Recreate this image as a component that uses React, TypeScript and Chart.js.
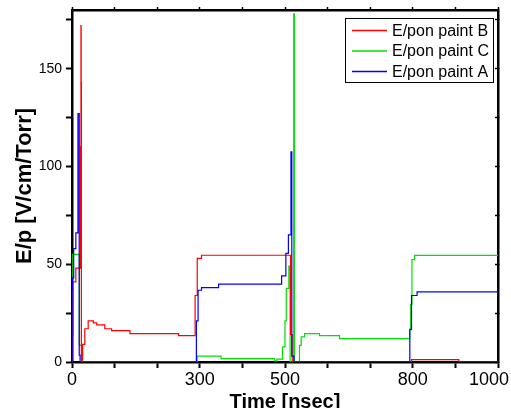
import React, { useEffect, useRef } from "react";
import { Chart, registerables } from "chart.js";

Chart.register(...registerables);

// ---- data ----
const X_MIN = 0;
const X_MAX = 1000;
const Y_MIN = 0;
const Y_MAX = 180;
const X_TICK_LABELS = [0, 300, 500, 800, 1000];
const Y_TICK_LABELS = [0, 50, 100, 150];
const SERIES_LABELS = ["E/pon paint B", "E/pon paint C", "E/pon paint A"];
const SERIES_COLORS = ["#ff0000", "#00e000", "#0000ff"];
const X_TITLE = "Time [nsec]";
const Y_TITLE = "E/p [V/cm/Torr]";

// series B (red)
const B_T = [0, 0.5, 2, 9, 20, 21, 21.5, 22, 25, 30, 38, 50, 58, 77, 93, 136, 250, 289, 294, 304, 513, 517, 797, 908, 1000];
const B_V = [0, 14, 41, 48, 110, 172, 143, 1, 9, 17, 21, 20, 19, 17, 16, 14.5, 13.5, 34, 53, 54.6, 14, 0, 1.2, 0, 0];

// series C (green)
const C_T = [0, 0.5, 17, 23, 294, 350, 476, 481, 494, 500, 503, 509, 512, 520.5, 522, 534, 538, 546, 581, 628, 793, 795, 798, 804, 1000];
const C_V = [0, 55, 8.5, 0, 3, 1.7, 0.5, 1.5, 7.7, 21, 37.6, 49, 0, 178, 0, 8.5, 12.8, 14.5, 13.5, 12, 16.6, 29.5, 52.4, 54.5, 54.5];

// series A (blue)
const A_T = [0, 0.3, 0.8, 4, 9, 14, 17, 19, 292, 296, 304, 344, 492, 502, 508, 514, 516, 521, 793, 797, 810, 1000];
const A_V = [0, 37, 43, 58, 66, 127, 3.5, 0, 21, 36.7, 38, 39.8, 44, 55.5, 65, 107.5, 3, 0, 16.7, 34, 35.9, 35.9];

const toPoints = (t: number[], v: number[]) => t.map((x, i) => ({ x, y: v[i] }));

const boxLegend = {
  id: "boxLegend",
  afterDatasetsDraw(chart: any) {
    const { ctx, chartArea } = chart;
    const w = 148;
    const h = 64;
    const x0 = Math.round(chartArea.right - 5 - w);
    const y0 = Math.round(chartArea.top + 8);
    ctx.save();
    ctx.fillStyle = "#ffffff";
    ctx.fillRect(x0, y0, w, h);
    ctx.strokeStyle = "#000000";
    ctx.lineWidth = 1;
    ctx.strokeRect(x0 + 0.5, y0 + 0.5, w, h);
    ctx.font = '16px "Liberation Sans", Arial, sans-serif';
    ctx.textBaseline = "middle";
    ctx.textAlign = "left";
    chart.data.datasets.forEach((ds: any, i: number) => {
      const y = y0 + 12.5 + i * 20.5;
      ctx.strokeStyle = ds.borderColor;
      ctx.lineWidth = 1.5;
      ctx.beginPath();
      ctx.moveTo(x0 + 7, y);
      ctx.lineTo(x0 + 42, y);
      ctx.stroke();
      ctx.fillStyle = "#000000";
      ctx.fillText(ds.label, x0 + 47, y + 1);
    });
    ctx.restore();
  },
};

const noPad = (s: any) => {
  s.paddingLeft = 0;
  s.paddingRight = 0;
  s.paddingTop = 0;
  s.paddingBottom = 0;
};

export default function App() {
  const ref = useRef<HTMLCanvasElement | null>(null);

  useEffect(() => {
    if (!ref.current) return;
    const series = [
      toPoints(B_T, B_V),
      toPoints(C_T, C_V),
      toPoints(A_T, A_V),
    ];
    const orders = [1, 2, 0];
    const chart = new Chart(ref.current, {
      type: "line",
      data: {
        datasets: series.map((d, i) => ({
          label: SERIES_LABELS[i],
          data: d,
          borderColor: SERIES_COLORS[i],
          backgroundColor: SERIES_COLORS[i],
          borderWidth: 1.2,
          pointRadius: 0,
          stepped: true,
          fill: false,
          order: orders[i],
        })),
      },
      options: {
        responsive: false,
        animation: false,
        devicePixelRatio: 1,
        layout: { padding: { top: 10, right: 13, left: 0, bottom: 0 } },
        plugins: {
          legend: { display: false },
          tooltip: { enabled: false },
        },
        scales: {
          x: {
            type: "linear",
            position: "bottom",
            min: X_MIN,
            max: X_MAX,
            afterFit: (s: any) => { s.height = 46; noPad(s); },
            afterBuildTicks: (s: any) => {
              const t = [];
              for (let v = X_MIN; v <= X_MAX; v += 100) t.push({ value: v });
              s.ticks = t;
            },
            ticks: {
              autoSkip: false,
              maxRotation: 0,
              padding: 1,
              color: "#000",
              font: { family: '"Liberation Sans Narrow", "Liberation Sans", Arial, sans-serif', size: 18 },
              callback: (v: any) => {
                const n = Number(v);
                if (!X_TICK_LABELS.includes(n)) return "";
                return n === X_MAX ? String(n) + "\u2002\u2002" : String(n);
              },
            },
            grid: { drawOnChartArea: false, drawTicks: true, tickLength: 6, tickWidth: 2, tickColor: "#000" },
            border: { display: true, color: "#000", width: 2.5 },
            title: {
              display: true,
              text: X_TITLE,
              color: "#000",
              font: { family: '"Liberation Sans", Arial, sans-serif', size: 20, weight: "bold" },
              padding: { top: 0, bottom: -6 },
            },
          },
          x2: {
            type: "linear",
            position: "top",
            min: X_MIN,
            max: X_MAX,
            afterFit: (s: any) => { s.height = 0; noPad(s); },
            afterBuildTicks: (s: any) => {
              const t = [];
              for (let v = X_MIN; v <= X_MAX; v += 100) t.push({ value: v });
              s.ticks = t;
            },
            ticks: { display: false },
            grid: { drawOnChartArea: false, drawTicks: true, tickLength: 3, tickWidth: 1.5, tickColor: "#000" },
            border: { display: true, color: "#000", width: 2.5 },
          },
          y: {
            type: "linear",
            position: "left",
            min: Y_MIN,
            max: Y_MAX,
            afterFit: (s: any) => { s.width = 72; noPad(s); },
            afterBuildTicks: (s: any) => {
              const t = [];
              for (let v = Y_MIN; v <= 175; v += 25) t.push({ value: v });
              s.ticks = t;
            },
            ticks: {
              autoSkip: false,
              padding: 4,
              color: "#000",
              font: { family: '"Liberation Sans", Arial, sans-serif', size: 14 },
              callback: (v: any) => (Y_TICK_LABELS.includes(Number(v)) ? String(v) : ""),
            },
            grid: { drawOnChartArea: false, drawTicks: true, tickLength: 6, tickWidth: 2, tickColor: "#000" },
            border: { display: true, color: "#000", width: 2.5 },
            title: {
              display: true,
              text: Y_TITLE,
              color: "#000",
              font: { family: '"Liberation Sans", Arial, sans-serif', size: 22, weight: "bold" },
              padding: { top: 12, bottom: 0 },
            },
          },
          y2: {
            type: "linear",
            position: "right",
            min: Y_MIN,
            max: Y_MAX,
            afterFit: (s: any) => { s.width = 0; noPad(s); },
            afterBuildTicks: (s: any) => {
              const t = [];
              for (let v = Y_MIN; v <= 175; v += 25) t.push({ value: v });
              s.ticks = t;
            },
            ticks: { display: false },
            grid: { drawOnChartArea: false, drawTicks: true, tickLength: -3, tickWidth: 1.5, tickColor: "#000" },
            border: { display: true, color: "#000", width: 2.5 },
          },
        },
      } as any,
      plugins: [boxLegend],
    });
    return () => chart.destroy();
  }, []);

  return (
    <div style={{ position: "fixed", left: 0, top: 0, width: 511, height: 408, overflow: "hidden", background: "#fff" }}>
      <canvas ref={ref} width={511} height={408} style={{ width: 511, height: 408, display: "block" }} />
    </div>
  );
}
